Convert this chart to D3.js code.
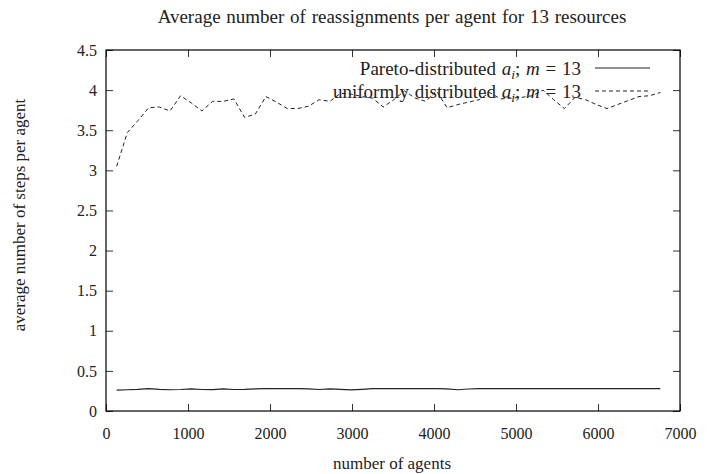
<!DOCTYPE html>
<html>
<head>
<meta charset="utf-8">
<script src="https://cdn.jsdelivr.net/npm/d3@7/dist/d3.min.js"></script>
<style>
    body { margin: 0; background: #fff; }
    text { font-family: "Liberation Serif", "Times New Roman", serif; fill: #222; }
</style>
</head>
<body>
<div id="chart"></div>
<script>
// number of agents on the x axis
const agents = [130, 260, 390, 520, 650, 780, 910, 1040, 1170, 1300, 1430, 1560, 1690, 1820,
    1950, 2080, 2210, 2340, 2470, 2600, 2730, 2860, 2990, 3120, 3250, 3380, 3510, 3640, 3770,
    3900, 4030, 4160, 4290, 4420, 4550, 4680, 4810, 4940, 5070, 5200, 5330, 5460, 5590, 5720,
    5850, 5980, 6110, 6240, 6370, 6500, 6630, 6760];

// Pareto-distributed a_i, m = 13
const paretoSteps = [0.26, 0.265, 0.27, 0.278, 0.27, 0.265, 0.268, 0.275, 0.268, 0.266, 0.277,
    0.268, 0.27, 0.275, 0.278, 0.278, 0.278, 0.278, 0.276, 0.268, 0.276, 0.27, 0.264, 0.27,
    0.278, 0.278, 0.278, 0.278, 0.278, 0.278, 0.278, 0.276, 0.265, 0.274, 0.278, 0.278, 0.278,
    0.278, 0.278, 0.278, 0.278, 0.278, 0.278, 0.278, 0.278, 0.278, 0.278, 0.278, 0.278, 0.278,
    0.278, 0.278];

// uniformly distributed a_i, m = 13
const uniformSteps = [3.05, 3.47, 3.62, 3.78, 3.79, 3.74, 3.93, 3.84, 3.74, 3.86, 3.86, 3.89,
    3.66, 3.70, 3.92, 3.85, 3.77, 3.77, 3.80, 3.88, 3.86, 3.96, 3.95, 3.92, 3.90, 3.79, 3.88,
    3.99, 3.90, 3.86, 3.99, 3.78, 3.82, 3.85, 3.88, 3.97, 3.89, 3.90, 3.91, 3.93, 4.00, 3.88,
    3.77, 3.91, 3.88, 3.82, 3.77, 3.82, 3.87, 3.92, 3.93, 3.97];

const xTicks = [0, 1000, 2000, 3000, 4000, 5000, 6000, 7000];
const yTicks = [0, 0.5, 1, 1.5, 2, 2.5, 3, 3.5, 4, 4.5];

const w = 719,
    h = 474,
    margin = { top: 50, right: 39, bottom: 63, left: 106 };

const svg = d3.select('#chart')
    .append('svg')
    .attr('width', w)
    .attr('height', h);

svg.append('rect').attr('width', w).attr('height', h).attr('fill', '#fff');

const xScale = d3.scaleLinear()
    .domain([0, 7000])
    .range([margin.left, w - margin.right]);

const yScale = d3.scaleLinear()
    .domain([0, 4.5])
    .range([h - margin.bottom, margin.top]);

const tickLen = 7;

// bottom axis with labels
svg.append('g')
    .attr('transform', 'translate(0,' + (h - margin.bottom) + ')')
    .call(d3.axisBottom(xScale).tickValues(xTicks).tickSizeInner(-tickLen).tickSizeOuter(0)
        .tickPadding(17).tickFormat(d3.format('d')))
    .call(g => g.select('.domain').remove());

// left axis with labels
svg.append('g')
    .attr('transform', 'translate(' + margin.left + ',0)')
    .call(d3.axisLeft(yScale).tickValues(yTicks).tickSizeInner(-tickLen).tickSizeOuter(0)
        .tickPadding(9).tickFormat(d => String(d)))
    .call(g => g.select('.domain').remove());

// mirrored ticks, top and right
svg.append('g')
    .attr('transform', 'translate(0,' + margin.top + ')')
    .call(d3.axisTop(xScale).tickValues(xTicks).tickSizeInner(-tickLen).tickSizeOuter(0).tickFormat(''))
    .call(g => g.select('.domain').remove());

svg.append('g')
    .attr('transform', 'translate(' + (w - margin.right) + ',0)')
    .call(d3.axisRight(yScale).tickValues(yTicks).tickSizeInner(-tickLen).tickSizeOuter(0).tickFormat(''))
    .call(g => g.select('.domain').remove());

svg.selectAll('.tick line').attr('stroke', '#333').attr('stroke-width', 1);
svg.selectAll('.tick text')
    .attr('font-family', '"Liberation Serif", "Times New Roman", serif')
    .attr('font-size', 16)
    .attr('fill', '#222');

// plot border
svg.append('rect')
    .attr('x', margin.left)
    .attr('y', margin.top)
    .attr('width', w - margin.left - margin.right)
    .attr('height', h - margin.top - margin.bottom)
    .attr('fill', 'none')
    .attr('stroke', '#000')
    .attr('stroke-width', 1.2);

const line = d3.line()
    .x(d => xScale(d[0]))
    .y(d => yScale(d[1]));

svg.append('path')
    .datum(agents.map((a, i) => [a, paretoSteps[i]]))
    .attr('d', line)
    .attr('fill', 'none')
    .attr('stroke', '#222')
    .attr('stroke-width', 1.2);

svg.append('path')
    .datum(agents.map((a, i) => [a, uniformSteps[i]]))
    .attr('d', line)
    .attr('fill', 'none')
    .attr('stroke', '#222')
    .attr('stroke-width', 1)
    .attr('stroke-dasharray', '4,3');

// legend
const legend = [
    { name: 'Pareto-distributed ', dash: null, y: 68 },
    { name: 'uniformly distributed ', dash: '4,3', y: 91 }
];

legend.forEach(item => {
    const t = svg.append('text')
        .attr('x', 581)
        .attr('y', item.y)
        .attr('dy', '0.35em')
        .attr('text-anchor', 'end')
        .attr('font-size', 19)
        .attr('word-spacing', 1);
    t.append('tspan').text(item.name);
    t.append('tspan').attr('font-style', 'italic').text('a');
    t.append('tspan').attr('font-style', 'italic').attr('font-size', 13.5).attr('dy', 4).text('i');
    t.append('tspan').attr('dy', -4).text('; ');
    t.append('tspan').attr('font-style', 'italic').text('m');
    t.append('tspan').text(' = 13');

    svg.append('line')
        .attr('x1', 595)
        .attr('x2', 650)
        .attr('y1', item.y)
        .attr('y2', item.y)
        .attr('stroke', '#222')
        .attr('stroke-width', item.dash ? 1 : 1.2)
        .attr('stroke-dasharray', item.dash);
});

// title and axis labels
svg.append('text')
    .attr('x', 392)
    .attr('y', 23)
    .attr('text-anchor', 'middle')
    .attr('font-size', 19)
    .attr('word-spacing', 1)
    .text('Average number of reassignments per agent for 13 resources');

svg.append('text')
    .attr('x', 392)
    .attr('y', 469)
    .attr('text-anchor', 'middle')
    .attr('font-size', 17)
    .text('number of agents');

svg.append('text')
    .attr('transform', 'translate(25,215) rotate(-90)')
    .attr('text-anchor', 'middle')
    .attr('font-size', 17)
    .text('average number of steps per agent');
</script>
</body>
</html>
